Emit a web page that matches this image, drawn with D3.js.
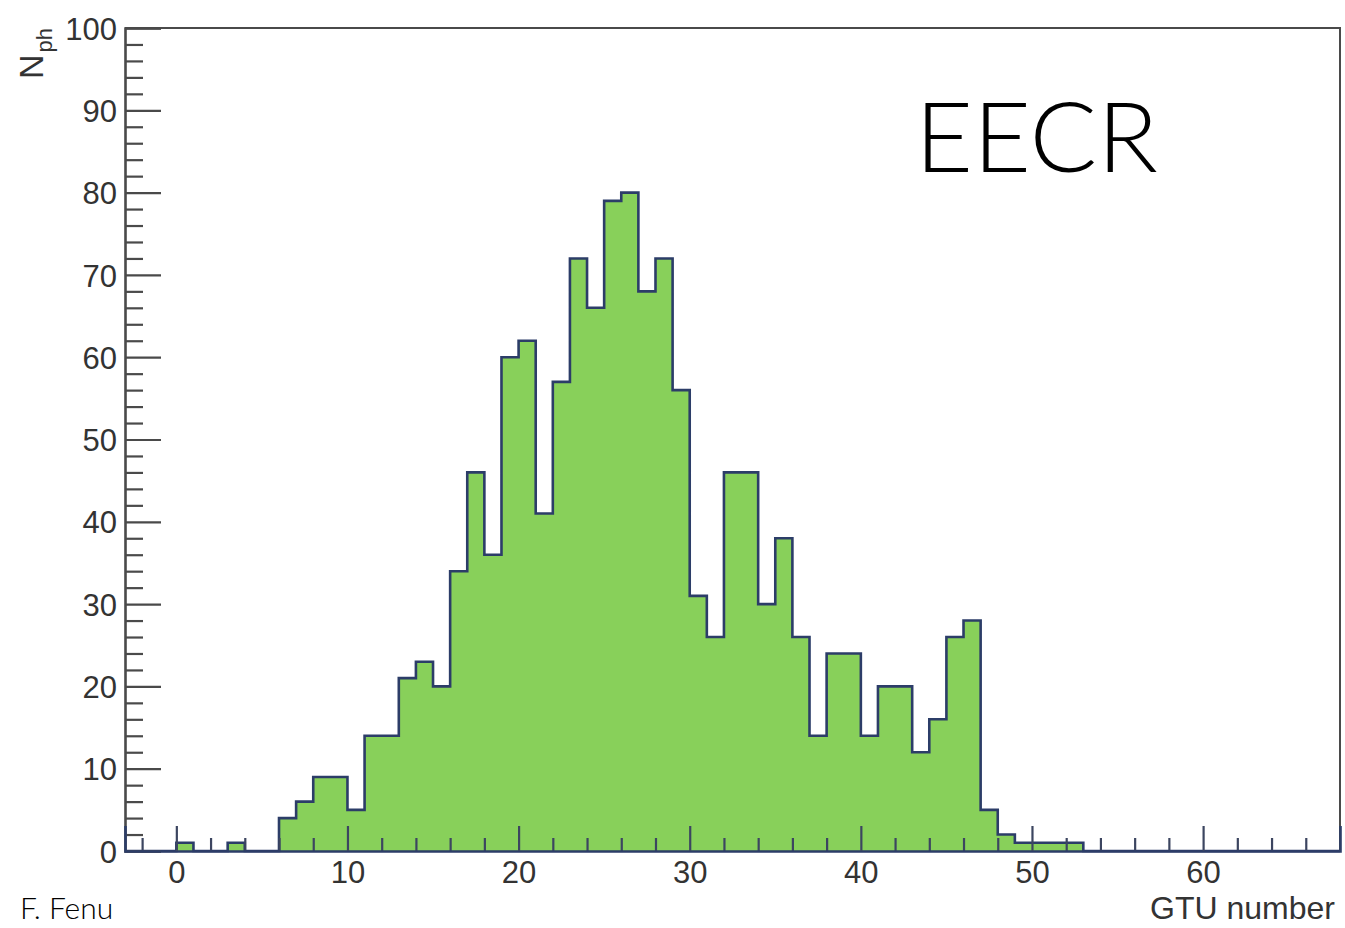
<!DOCTYPE html>
<html>
<head>
<meta charset="utf-8">
<script src="https://cdn.jsdelivr.net/npm/d3@7"></script>
<style>
  body { margin: 0; background: #fff; }
  svg { display: block; }
</style>
</head>
<body>
<svg id="chart" width="1345" height="928"></svg>
<script>
// GTU bin lower edges (bin width 1) and photon counts per bin
const gtu = [0, 1, 2, 3, 4, 5, 6, 7, 8, 9, 10, 11, 12, 13, 14, 15, 16, 17, 18, 19,
             20, 21, 22, 23, 24, 25, 26, 27, 28, 29, 30, 31, 32, 33, 34, 35, 36, 37, 38, 39,
             40, 41, 42, 43, 44, 45, 46, 47, 48, 49, 50, 51, 52];
const nph = [1, 0, 0, 1, 0, 0, 4, 6, 9, 9, 5, 14, 14, 21, 23, 20, 34, 46, 36, 60,
             62, 41, 57, 72, 66, 79, 80, 68, 72, 56, 31, 26, 46, 46, 30, 38, 26, 14, 24, 24,
             14, 20, 20, 12, 16, 26, 28, 5, 2, 1, 1, 1, 1];

const xDomain = [-3, 68];
const yDomain = [0, 100];
const xMajorTicks = [0, 10, 20, 30, 40, 50, 60];
const yMajorTicks = [0, 10, 20, 30, 40, 50, 60, 70, 80, 90, 100];
const xTitle = "GTU number";
const plotLabel = "EECR";
const credit = "F. Fenu";

const frame = { left: 125, right: 1340, top: 28, bottom: 851 };
const svg = d3.select("#chart");

const x = d3.scaleLinear().domain(xDomain).range([frame.left, frame.right]);
const y = d3.scaleLinear().domain(yDomain).range([frame.bottom, frame.top]);

const axisColor = "#4a4a4a";
const lineColor = "#2c3d68";
const fillColor = "#88d05a";
const font = "'Liberation Sans', Arial, Helvetica, sans-serif";
const lightFont = "'Helvetica Neue', Lato, Roboto, sans-serif";

// Step outline over the whole axis range, with empty bins at zero
const pts = [{ e: xDomain[0], v: 0 }]
  .concat(gtu.map((g, i) => ({ e: g, v: nph[i] })))
  .concat([{ e: gtu[gtu.length - 1] + 1, v: 0 }, { e: xDomain[1], v: 0 }]);

const area = d3.area()
  .x(d => x(d.e)).y0(y(0)).y1(d => y(d.v))
  .curve(d3.curveStepAfter);
const line = d3.line()
  .x(d => x(d.e)).y(d => y(d.v))
  .curve(d3.curveStepAfter);

svg.append("path").datum(pts)
  .attr("d", area)
  .attr("fill", fillColor);

svg.append("path").datum(pts)
  .attr("d", line)
  .attr("fill", "none")
  .attr("stroke", lineColor)
  .attr("stroke-width", 2.6)
  .attr("stroke-linejoin", "miter");

// Frame (top and right edges)
svg.append("path")
  .attr("d", `M${frame.left},${frame.top}H${frame.right}V${frame.bottom}`)
  .attr("fill", "none")
  .attr("stroke", axisColor)
  .attr("stroke-width", 2);

// Y axis: inward ticks, minor every 2
const yMinor = d3.range(0, 101, 2).filter(v => v % 10 !== 0);
const yAxisMinor = d3.axisLeft(y).tickValues(yMinor).tickSize(-18).tickFormat("");
const yAxisMajor = d3.axisLeft(y).tickValues(yMajorTicks).tickSize(-36).tickFormat(d3.format("d"));

const gyMinor = svg.append("g").attr("transform", `translate(${frame.left},0)`).call(yAxisMinor);
const gy = svg.append("g").attr("transform", `translate(${frame.left},0)`).call(yAxisMajor);
gyMinor.select(".domain").remove();
[gyMinor, gy].forEach(g => {
  g.selectAll(".tick line").attr("stroke", axisColor).attr("stroke-width", 2.2);
});
gy.select(".domain").attr("stroke", axisColor).attr("stroke-width", 2.6);
gy.selectAll(".tick text")
  .attr("font-family", font).attr("font-size", 31).attr("fill", "#333")
  .attr("x", -8).attr("dy", "0.36em");

// X axis: inward ticks, minor every 2
const xMinor = d3.range(-2, 68, 2).filter(v => v % 10 !== 0);
const xAxisMinor = d3.axisBottom(x).tickValues(xMinor).tickSize(-13).tickFormat("");
const xAxisMajor = d3.axisBottom(x).tickValues(xMajorTicks).tickSize(-25).tickFormat(d3.format("d"));

const gxMinor = svg.append("g").attr("transform", `translate(0,${frame.bottom})`).call(xAxisMinor);
const gx = svg.append("g").attr("transform", `translate(0,${frame.bottom})`).call(xAxisMajor);
gxMinor.select(".domain").remove();
[gxMinor, gx].forEach(g => {
  g.selectAll(".tick line").attr("stroke", "#3c4560").attr("stroke-width", 2.2);
});
gx.select(".domain").attr("stroke", lineColor).attr("stroke-width", 2.6);
gx.selectAll(".tick text")
  .attr("font-family", font).attr("font-size", 31).attr("fill", "#333")
  .attr("y", 10).attr("dy", "0.71em");

// Axis titles
svg.append("text")
  .attr("x", 1335).attr("y", 919)
  .attr("text-anchor", "end")
  .attr("font-family", font).attr("font-size", 32).attr("fill", "#333")
  .text(xTitle);

const yTitle = svg.append("text")
  .attr("transform", "translate(43,28) rotate(-90)")
  .attr("text-anchor", "end")
  .attr("font-family", font).attr("fill", "#333");
yTitle.append("tspan").attr("font-size", 34).text("N");
yTitle.append("tspan").attr("font-size", 22).attr("dx", 2).attr("dy", 9).text("ph");

// Panel label and credit
svg.append("text")
  .attr("x", 915).attr("y", 172)
  .attr("font-family", lightFont)
  .attr("font-weight", 300)
  .attr("font-size", 97)
  .attr("textLength", 243).attr("lengthAdjust", "spacingAndGlyphs")
  .attr("fill", "#000")
  .text(plotLabel);

svg.append("text")
  .attr("x", 20).attr("y", 919)
  .attr("font-family", lightFont)
  .attr("font-weight", 300)
  .attr("font-size", 30)
  .attr("fill", "#000")
  .text(credit);
</script>
</body>
</html>
